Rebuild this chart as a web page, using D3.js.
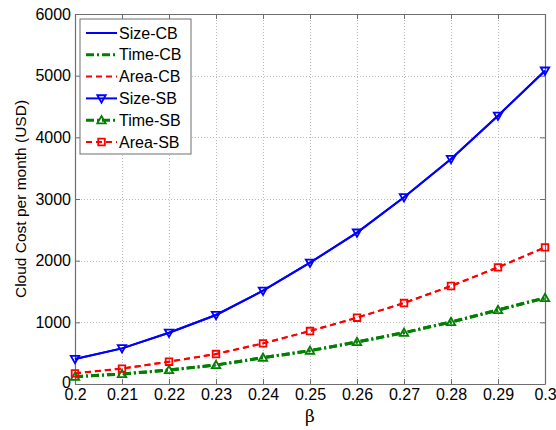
<!DOCTYPE html>
<html>
<head>
<meta charset="utf-8">
<script src="https://cdn.jsdelivr.net/npm/d3@7"></script>
<style>
  body { margin: 0; background: #fff; }
  svg text { font-family: "Liberation Sans", Arial, sans-serif; fill: #000; }
</style>
</head>
<body>
<svg id="chart" width="556" height="430"></svg>
<script>
const beta = [0.2, 0.21, 0.22, 0.23, 0.24, 0.25, 0.26, 0.27, 0.28, 0.29, 0.3];
const sizeCB = [405, 578, 832, 1119, 1513, 1967, 2454, 3027, 3648, 4351, 5081];
const timeCB = [119, 162, 227, 308, 427, 540, 681, 832, 1005, 1200, 1395];
const areaCB = [173, 249, 362, 486, 659, 859, 1075, 1313, 1589, 1892, 2216];
const sizeSB = [405, 578, 832, 1119, 1513, 1967, 2454, 3027, 3648, 4351, 5081];
const timeSB = [119, 162, 227, 308, 427, 540, 681, 832, 1005, 1200, 1395];
const areaSB = [173, 249, 362, 486, 659, 859, 1075, 1313, 1589, 1892, 2216];
const xTicks = [0.2, 0.21, 0.22, 0.23, 0.24, 0.25, 0.26, 0.27, 0.28, 0.29, 0.3];
const yTicks = [0, 1000, 2000, 3000, 4000, 5000, 6000];

const series = [
  { name: 'Size-CB', values: sizeCB, color: '#0000ff', dash: null, width: 2, marker: null },
  { name: 'Time-CB', values: timeCB, color: '#008000', dash: '8,3,2,3', width: 3, marker: null },
  { name: 'Area-CB', values: areaCB, color: '#ff0000', dash: '6,4', width: 2, marker: null },
  { name: 'Size-SB', values: sizeSB, color: '#0000ff', dash: null, width: 2, marker: 'down' },
  { name: 'Time-SB', values: timeSB, color: '#008000', dash: '8,3,2,3', width: 3, marker: 'up' },
  { name: 'Area-SB', values: areaSB, color: '#ff0000', dash: '6,4', width: 2, marker: 'square' }
];

const margin = { top: 14, right: 11, bottom: 46, left: 75 };
const width = 556, height = 430;
const svg = d3.select('#chart');

const x = d3.scaleLinear().domain([0.2, 0.3]).range([margin.left, width - margin.right]);
const y = d3.scaleLinear().domain([0, 6000]).range([height - margin.bottom, margin.top]);

// grid
const grid = svg.append('g').attr('stroke', '#b8b8b8').attr('stroke-width', 1).attr('stroke-dasharray', '1,2');
grid.selectAll('line.gx').data(xTicks.slice(1, -1)).join('line')
  .attr('x1', d => Math.round(x(d)) + 0.5).attr('x2', d => Math.round(x(d)) + 0.5)
  .attr('y1', y(6000)).attr('y2', y(0));
grid.selectAll('line.gy').data(yTicks.slice(1, -1)).join('line')
  .attr('y1', d => Math.round(y(d)) + 0.5).attr('y2', d => Math.round(y(d)) + 0.5)
  .attr('x1', x(0.2)).attr('x2', x(0.3));

// axes: ticks inward
const fmtX = d => d3.format('.2~f')(d);
const axB = svg.append('g').attr('transform', `translate(0,${y(0)})`)
  .call(d3.axisBottom(x).tickValues(xTicks).tickFormat(fmtX).tickSizeInner(-5).tickSizeOuter(0).tickPadding(5));
const axT = svg.append('g').attr('transform', `translate(0,${y(6000)})`)
  .call(d3.axisTop(x).tickValues(xTicks).tickFormat('').tickSizeInner(-5).tickSizeOuter(0));
const axL = svg.append('g').attr('transform', `translate(${x(0.2)},0)`)
  .call(d3.axisLeft(y).tickValues(yTicks).tickFormat(d3.format('d')).tickSizeInner(-5).tickSizeOuter(0).tickPadding(4));
const axR = svg.append('g').attr('transform', `translate(${x(0.3)},0)`)
  .call(d3.axisRight(y).tickValues(yTicks).tickFormat('').tickSizeInner(-5).tickSizeOuter(0));
[axB, axT, axL, axR].forEach(g => {
  g.select('.domain').attr('stroke', '#6e6e6e').attr('stroke-width', 1.2);
  g.selectAll('.tick line').attr('stroke', '#6e6e6e');
  g.selectAll('text').style('font-size', '16px').attr('fill', '#000');
});
axB.selectAll('text').attr('dy', '0.71em');
axL.selectAll('.tick text').filter(d => d === 0).attr('dy', '0.22em');

// lines
const line = d3.line().x((d, i) => x(beta[i])).y(d => y(d));
series.forEach(s => {
  svg.append('path').datum(s.values)
    .attr('fill', 'none').attr('stroke', s.color).attr('stroke-width', s.width)
    .attr('stroke-dasharray', s.dash).attr('d', line);
});

function markerPath(type, cx, cy) {
  const r = 4.2;
  if (type === 'down') return `M${cx - r},${cy - r * 0.75}L${cx + r},${cy - r * 0.75}L${cx},${cy + r}Z`;
  if (type === 'up') return `M${cx - r},${cy + r * 0.75}L${cx + r},${cy + r * 0.75}L${cx},${cy - r}Z`;
  return `M${cx - 3.3},${cy - 3.3}h6.6v6.6h-6.6Z`;
}
series.filter(s => s.marker).forEach(s => {
  svg.append('g').selectAll('path').data(s.values).join('path')
    .attr('d', (d, i) => markerPath(s.marker, x(beta[i]), y(d)))
    .attr('fill', 'none').attr('stroke', s.color).attr('stroke-width', 1.8);
});

// axis labels
svg.append('text').attr('x', x(0.25)).attr('y', 422).attr('text-anchor', 'middle')
  .style('font-size', '17px').style('font-family', '"DejaVu Serif", serif').text('β');
svg.append('text').attr('transform', `translate(26,${y(3000)}) rotate(-90)`).attr('text-anchor', 'middle')
  .style('font-size', '15.5px').text('Cloud Cost per month (USD)');

// legend
const lg = svg.append('g').attr('transform', 'translate(80,19)');
lg.append('rect').attr('width', 111).attr('height', 135).attr('fill', '#fff').attr('stroke', '#6e6e6e').attr('stroke-width', 1);
const item = lg.selectAll('g.item').data(series).join('g')
  .attr('transform', (d, i) => `translate(0,${14 + i * 21.8})`);
item.append('line').attr('x1', 6).attr('x2', 37).attr('y1', 0).attr('y2', 0)
  .attr('stroke', d => d.color).attr('stroke-width', d => d.width).attr('stroke-dasharray', d => d.dash);
item.filter(d => d.marker).append('path')
  .attr('d', d => markerPath(d.marker, 21.5, 0))
  .attr('fill', 'none').attr('stroke', d => d.color).attr('stroke-width', 1.8);
item.append('text').attr('x', 39).attr('y', 0).attr('dy', '0.35em')
  .style('font-size', '16px').text(d => d.name);
</script>
</body>
</html>
